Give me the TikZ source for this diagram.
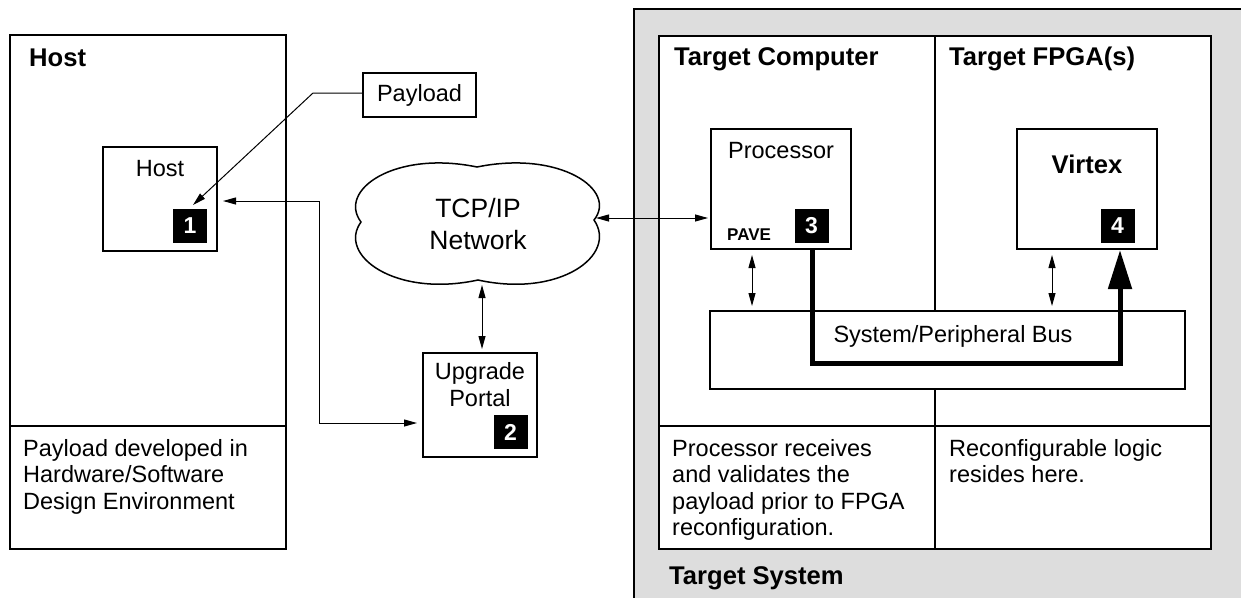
\documentclass[tikz,border=0pt]{standalone}
\usepackage{fontspec}
\setmainfont{Liberation Sans}
\usetikzlibrary{arrows.meta}
\definecolor{sysgrey}{RGB}{221,221,221}
\newcommand{\txtfont}{\fontsize{23.5}{26.6}\selectfont}
\newcommand{\hdfont}{\fontsize{25.6}{29}\selectfont\bfseries}
\tikzset{
  panel/.style={draw, line width=2pt},
  blk/.style={draw, fill=white, line width=2pt, inner sep=0pt},
  badge/.style={fill=black, text=white, inner sep=0pt, minimum size=34pt,
    font=\fontsize{23}{23}\selectfont\bfseries},
  hd/.style={anchor=base west, inner sep=0pt, font=\hdfont},
  txt/.style={inner sep=0pt, font=\txtfont},
  link/.style={line width=1pt, >={Triangle[length=13pt,width=7pt]}},
}
\begin{document}
\begin{tikzpicture}[x=1pt,y=-1pt]
\useasboundingbox (0,0) rectangle (1241,597);
\clip (0,0) rectangle (1241,597);
% target system
\draw[panel, fill=sysgrey] (634,9) rectangle (1270,630);
\draw[panel, fill=white] (659,36) rectangle (1211,549);
\draw[line width=1.6pt] (935,36) -- (935,549);
\draw[line width=1.6pt] (659,426) -- (1211,426);
% host
\draw[panel] (10,35) rectangle (286,549);
\draw[line width=1.4pt] (10,426) -- (286,426);
\node[hd] (hosthd) at (29,66) {Host};
\node[hd] (tchd) at (674,65) {Target Computer};
\node[hd] (tfhd) at (949,65) {Target FPGA(s)};
\node[hd] (tshd) at (669,584) {Target System};
% multi-line notes: base = last line
\node[txt, anchor=base west, align=left] (hostnote) at (23,509.2)
  {Payload developed in\\Hardware/Software\\Design Environment};
\node[txt, anchor=base west, align=left] (tcnote) at (672,535.8)
  {Processor receives\\and validates the\\payload prior to FPGA\\reconfiguration.};
\node[txt, anchor=base west, align=left] (tfnote) at (949,482.6)
  {Reconfigurable logic\\resides here.};
% blocks
\node[blk, minimum width=114pt, minimum height=104pt] (host) at (160,199) {};
\node[blk, minimum width=113pt, minimum height=44pt, font=\txtfont] (pay) at (419.5,95) {Payload};
\node[blk, minimum width=114pt, minimum height=104pt] (portal) at (480,405) {};
\node[blk, minimum width=140pt, minimum height=120pt] (proc) at (781,189) {};
\node[blk, minimum width=140pt, minimum height=120pt] (virtex) at (1087,189) {};
\node[blk, minimum width=475pt, minimum height=78pt, font=\txtfont] (bus) at (947.5,350) {};
\node[txt, anchor=base] (hosttxt) at (160,176) {Host};
\node[txt, anchor=base, align=center] (portaltxt) at (480,406) {Upgrade\\Portal};
\node[txt, anchor=base] (proctxt) at (781,158) {Processor};
\node[anchor=base, inner sep=0pt, font=\hdfont] (virtxt) at (1087,173) {Virtex};
\node[txt, anchor=base] (bustxt) at (953,342) {System/Peripheral Bus};
\node[anchor=base west, inner sep=0pt, font=\fontsize{17}{17}\selectfont\bfseries] (pave) at (727,240) {PAVE};
\node[badge] (b1) at (190,226) {1};
\node[badge] (b2) at (510.5,432) {2};
\node[badge] (b3) at (811.5,226) {3};
\node[badge] (b4) at (1117.5,226) {4};
% network cloud
\draw[line width=1.5pt] (477,167) .. controls (560,150) and (618,190) .. (594,220)
  .. controls (618,255) and (560,298) .. (478,280)
  .. controls (395,298) and (337,255) .. (361,222)
  .. controls (337,190) and (395,150) .. (477,167) -- cycle;
\node[align=center, inner sep=0pt, font=\fontsize{26.5}{32}\selectfont, anchor=base] (net) at (478,249) {TCP/IP\\Network};
\coordinate (netR) at (596,218);
\coordinate (netB) at (482,285);
% connectors
\coordinate (pk) at (313,93);
\coordinate (pt) at (193,205);
\draw[link, ->] (pk -| pay.west) -- (pk) -- (pt);
\coordinate (hp) at (319,201);
\coordinate (pp) at (319,423);
\draw[link, <->, shorten <=5pt, shorten >=5pt] (hp -| host.east) -- (hp) -- (pp) -- (pp -| portal.west);
\draw[link, <->, shorten >=3pt] (netB) -- (netB |- portal.north);
\draw[link, <->, shorten >=2pt] (netR) -- (netR -| proc.west);
\draw[link, <->, shorten <=5pt, shorten >=4pt] ([xshift=-29pt]proc.south) -- ([xshift=-29pt]proc.south |- bus.north);
\draw[link, <->, shorten <=5pt, shorten >=4pt] ([xshift=-35pt]virtex.south) -- ([xshift=-35pt]virtex.south |- bus.north);
\coordinate (bl) at (812,363);
\coordinate (br) at (1120,363);
\draw[line width=5pt, -{Triangle[length=39pt,width=23pt]}] (bl |- proc.south) -- (bl) -- (br) -- (br |- virtex.south);
\end{tikzpicture}
\end{document}
